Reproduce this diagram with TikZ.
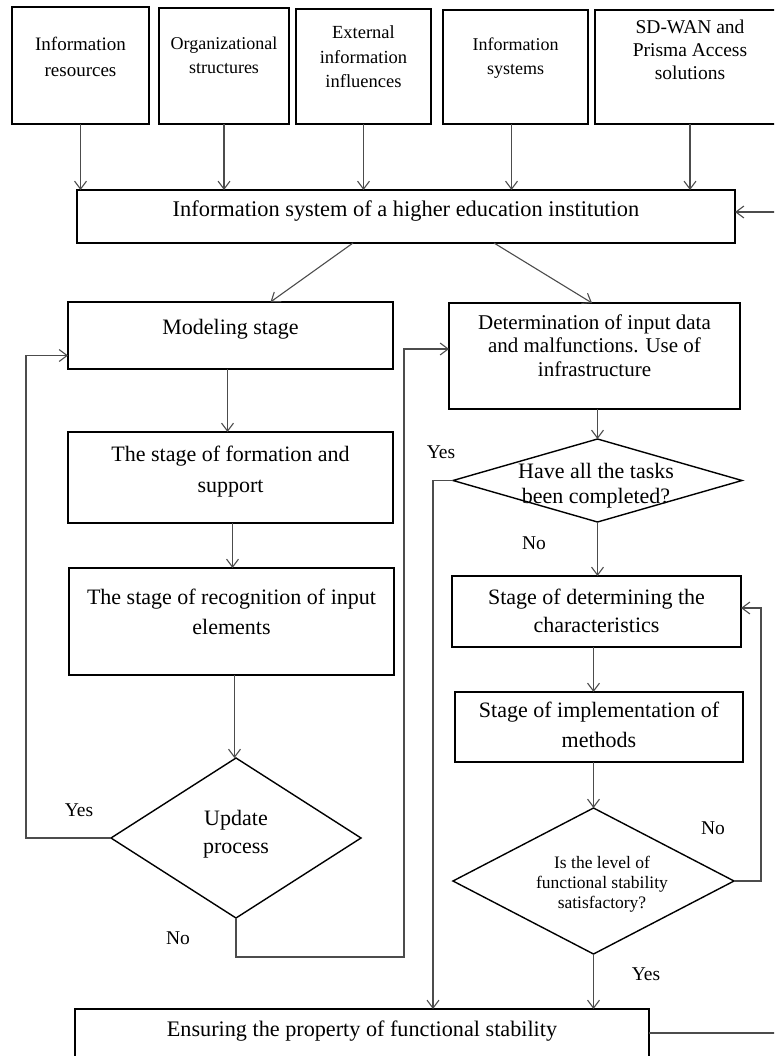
\documentclass[tikz,border=0pt]{standalone}
\usepackage{fontspec}
\setmainfont{Liberation Serif}
\usetikzlibrary{arrows.meta,shapes.geometric}
\newcommand{\bt}[6]{\parbox[t][#2][t]{#1}{\fontsize{#3}{#4}\selectfont\centering\rule{0pt}{#5}#6\par}}
\newcommand{\tl}[4]{\parbox[t]{#1}{\fontsize{#2}{#3}\selectfont\centering #4\par}}
\tikzset{
  box/.style={draw=black, line width=1.4pt, inner sep=0pt, outer sep=0pt, anchor=north west, rectangle},
  dia/.style={draw=black, line width=1.4pt, diamond, inner sep=0pt, outer sep=0pt},
  arr/.style={draw=black!70, line width=1.1pt, -{Straight Barb[length=8pt,width=12pt,line width=1.1pt]}},
  ln/.style={draw=black!70, line width=1.1pt},
  lbl/.style={font=\fontsize{19.5}{23}\selectfont, inner sep=0pt},
  txt/.style={inner sep=0pt, anchor=base},
}
\begin{document}
\begin{tikzpicture}[x=1pt,y=-1pt]
\useasboundingbox (0,0) rectangle (774,1056);
\clip (0,0) rectangle (774,1056);
% top boxes
\node[box] (ir) at (12,7) {\bt{137pt}{117pt}{19}{26}{44pt}{Information\\resources}};
\node[box] (os) at (159,8) {\bt{130pt}{116pt}{18}{24}{42pt}{Organizational\\structures}};
\node[box] (ei) at (296,9) {\bt{135pt}{115pt}{18.5}{24.5}{30pt}{External\\information\\influences}};
\node[box] (is) at (443,10) {\bt{145pt}{114pt}{18}{24}{41pt}{Information\\systems}};
\node[box] (sd) at (595,10) {\bt{190pt}{114pt}{19.5}{23}{24pt}{SD-WAN and\\Prisma Access\\solutions}};
% main box
\node[box] (main) at (77,190) {\bt{658pt}{53pt}{22.4}{27}{27pt}{Information system of a higher education institution}};
% left column
\node[box] (model) at (68,302) {\bt{325pt}{67pt}{22}{28}{32pt}{Modeling stage}};
\node[box] (form) at (68,432) {\bt{325pt}{91pt}{22}{31}{29pt}{The stage of formation and\\support}};
\node[box] (recog) at (69,568) {\bt{325pt}{107pt}{22}{30}{36pt}{The stage of recognition of input\\elements}};
\node[dia, minimum width=250pt, minimum height=160pt] (upd) at (236,838) {};
\node[txt] (updt) at (236,825) {\tl{120pt}{22}{28}{Update\\process}};
% right column
\node[box] (det) at (449,303) {\bt{291pt}{106pt}{21}{23.5}{26pt}{Determination of input data\\and malfunctions. Use of\\infrastructure}};
\node[dia, minimum width=289pt, minimum height=83pt] (have) at (597.5,480.5) {};
\node[txt] (havet) at (596,478) {\tl{200pt}{22}{25}{Have all the tasks\\been completed?}};
\node[box] (sdet) at (452,576) {\bt{289pt}{71pt}{22}{28}{28pt}{Stage of determining the\\characteristics}};
\node[box] (impl) at (455,692) {\bt{288pt}{70pt}{22}{30}{25pt}{Stage of implementation of\\methods}};
\node[dia, minimum width=281pt, minimum height=146pt] (lev) at (593.5,881) {};
\node[txt] (levt) at (602,868) {\tl{180pt}{17.5}{20}{Is the level of\\functional stability\\satisfactory?}};
% bottom box
\node[box] (bot) at (75,1009) {\bt{574pt}{70pt}{22.2}{27}{27pt}{Ensuring the property of functional stability}};
% labels
\node[lbl] (y1) at (79,810) {Yes};
\node[lbl] (n1) at (178,938) {No};
\node[lbl] (y2) at (441,452) {Yes};
\node[lbl] (n2) at (534,543) {No};
\node[lbl] (n3) at (713,828) {No};
\node[lbl] (y3) at (646,974) {Yes};
% free ends
\coordinate (feedin) at (776,212);
\coordinate (feedout) at (776,1033);
\coordinate (c1) at (404,957);
% connectors top
\draw[arr] (ir.south) -- (ir.south |- main.north);
\draw[arr] (os.south) -- (os.south |- main.north);
\draw[arr] (ei.south) -- (ei.south |- main.north);
\draw[arr] ([xshift=-4pt]is.south) -- ([xshift=-4pt]is.south |- main.north);
\draw[arr] (sd.south) -- (sd.south |- main.north);
\draw[arr] (feedin) -- (feedin -| main.east);
\draw[arr] ([xshift=-53pt]main.south) -- ([xshift=40pt]model.north);
\draw[arr] ([xshift=88pt]main.south) -- ([xshift=-2.5pt]det.north);
% left column connectors
\draw[arr] ([xshift=-3pt]model.south) -- ([xshift=-3pt]form.north);
\draw[arr] ([xshift=2pt]form.south) -- ([xshift=2pt]form.south |- recog.north);
\draw[arr] ([xshift=3pt]recog.south) -- ([xshift=3pt]recog.south |- upd.north);
\draw[arr] (upd.west) -- ++(-85,0) |- ([yshift=-20pt]model.west);
\draw[arr] (upd.south) |- (c1) |- ([yshift=7pt]det.west);
% right column connectors
\draw[arr] (det.south -| have.north) -- (have.north);
\draw[arr] (have.west) -- ++(-20,0) -- (433,1009);
\draw[arr] (have.south) -- (have.south |- sdet.north);
\draw[arr] (sdet.south -| lev.north) -- (lev.north |- impl.north);
\draw[arr] (impl.south -| lev.north) -- (lev.north);
\draw[arr] (lev.east) -- ++(27,0) |- ([yshift=3.5pt]sdet.east);
\draw[arr] (lev.south) -- (lev.south |- bot.north);
\draw[ln] ([yshift=-24pt]bot.north east) -- (feedout);
\end{tikzpicture}
\end{document}
